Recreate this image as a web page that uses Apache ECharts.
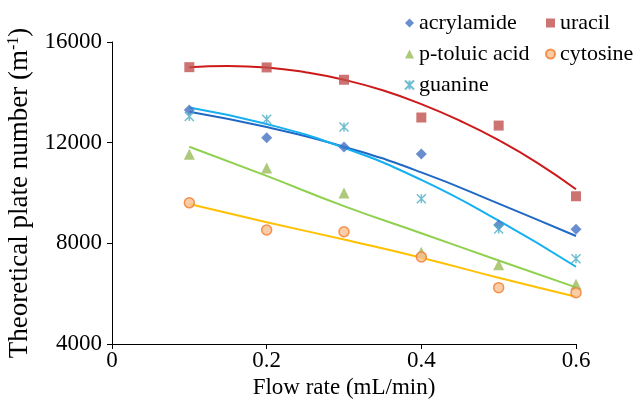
<!DOCTYPE html>
<html>
<head>
<meta charset="utf-8">
<script src="https://cdn.jsdelivr.net/npm/echarts@6/dist/echarts.min.js"></script>
<style>html,body{margin:0;padding:0;background:#fff}#c{width:634px;height:403px}</style>
</head>
<body>
<div id="c"></div>
<script>
const flowRates = [0.1, 0.2, 0.3, 0.4, 0.5, 0.6];
const xTicks = [0, 0.2, 0.4, 0.6];
const yTicks = [4000, 8000, 12000, 16000];

const acrylamide = [13300, 12200, 11830, 11550, 8730, 8560];
const uracil = [15000, 14990, 14500, 13000, 12680, 9870];
const pToluicAcid = [11540, 10990, 10000, 7650, 7150, 6370];
const cytosine = [9610, 8530, 8460, 7460, 6240, 6040];
const guanine = [13040, 12930, 12620, 9770, 8570, 7390];

// trend lines
const acrylamideTrend = [13230, 12620, 11840, 10820, 9580, 8290];
const pToluicTrend = [11840, 10680, 9480, 8400, 7320, 6250];
const cytosineTrend = [9560, 8840, 8150, 7430, 6630, 5880];
const guanineTrend = [13400, 12740, 11800, 10520, 8900, 7070];
// uracil trend read at finer steps (it is strongly curved)
const uracilTrendX = [0.1, 0.15, 0.2, 0.25, 0.3, 0.35, 0.4, 0.45, 0.5, 0.55, 0.6];
const uracilTrend = [15000, 15050, 14990, 14800, 14500, 14080, 13530, 12870, 12100, 11200, 10150];

const font = 'Liberation Serif, Times New Roman, serif';
const pair = (arr, xs) => arr.map((v, i) => [(xs || flowRates)[i], v]);
const asterisk = 'path://M0,0L10,10M10,0L0,10M5,0L5,10';

function trend(name, data, color, xs) {
  return {
    name: name, type: 'line', data: pair(data, xs), smooth: 0.5, symbol: 'none',
    lineStyle: { color: color, width: 2 }, z: 2, silent: true
  };
}
function pts(name, data, symbol, size, itemStyle) {
  return {
    name: name, type: 'scatter', data: pair(data), symbol: symbol, symbolSize: size,
    itemStyle: itemStyle, z: 3
  };
}

const chart = echarts.init(document.getElementById('c'), null, { renderer: 'canvas' });
chart.setOption({
  animation: false,
  backgroundColor: '#fff',
  grid: { left: 112, right: 58, top: 42, bottom: 59, containLabel: false, outerBoundsMode: 'none' },
  legend: [
    {
      orient: 'vertical', left: 404, top: 12, padding: 0, itemGap: 9,
      itemWidth: 9, itemHeight: 9,
      textStyle: { fontFamily: font, fontSize: 22, lineHeight: 22, color: '#000' },
      data: ['acrylamide', 'p-toluic acid', 'guanine']
    },
    {
      orient: 'vertical', left: 545, top: 12, padding: 0, itemGap: 9,
      itemWidth: 9, itemHeight: 9,
      textStyle: { fontFamily: font, fontSize: 22, lineHeight: 22, color: '#000' },
      data: ['uracil', 'cytosine']
    }
  ],
  xAxis: {
    type: 'value', min: 0, max: 0.6, interval: 0.2,
    name: 'Flow rate (mL/min)', nameLocation: 'middle', nameGap: 30,
    nameTextStyle: { fontFamily: font, fontSize: 23, color: '#000' },
    axisLine: { show: true, lineStyle: { color: '#000', width: 1 } },
    axisTick: { show: true, length: 5, lineStyle: { color: '#000' } },
    axisLabel: {
      fontFamily: font, fontSize: 23, color: '#000', margin: 5,
      formatter: v => { const t = xTicks.find(x => Math.abs(x - v) < 1e-9); return t === undefined ? '' : String(t); }
    },
    splitLine: { show: false }
  },
  yAxis: {
    type: 'value', min: 4000, max: 16000, interval: 4000,
    name: '{a|Theoretical plate number (m}{s|-1}{a|)}',
    nameLocation: 'middle', nameGap: 64, nameRotate: 90,
    nameTextStyle: {
      fontFamily: font, fontSize: 27, color: '#000',
      rich: {
        a: { fontFamily: font, fontSize: 27, color: '#000' },
        s: { fontFamily: font, fontSize: 16, color: '#000', verticalAlign: 'top', padding: [0, 0, 12, 0] }
      }
    },
    axisLine: { show: true, lineStyle: { color: '#000', width: 1 } },
    axisTick: { show: true, length: 5, lineStyle: { color: '#000' } },
    axisLabel: {
      fontFamily: font, fontSize: 23, color: '#000', margin: 10,
      formatter: v => yTicks.includes(v) ? String(v) : ''
    },
    splitLine: { show: false }
  },
  series: [
    trend('acrylamide trend', acrylamideTrend, '#1F68C4'),
    trend('uracil trend', uracilTrend, '#CC1A1A', uracilTrendX),
    trend('p-toluic acid trend', pToluicTrend, '#8FD14F'),
    trend('cytosine trend', cytosineTrend, '#FFC000'),
    trend('guanine trend', guanineTrend, '#14B0F0'),
    pts('acrylamide', acrylamide, 'diamond', 11, { color: '#4472C4' }),
    pts('uracil', uracil, 'rect', 10, { color: '#C0504D' }),
    pts('p-toluic acid', pToluicAcid, 'triangle', 11, { color: '#9BBB59' }),
    pts('cytosine', cytosine, 'circle', 10, { color: '#FAC090', borderColor: '#F07A2A', borderWidth: 1.5 }),
    pts('guanine', guanine, asterisk, 9, { color: 'rgba(0,0,0,0)', borderColor: '#4BACC6', borderWidth: 1.5 })
  ]
});
</script>
</body>
</html>
